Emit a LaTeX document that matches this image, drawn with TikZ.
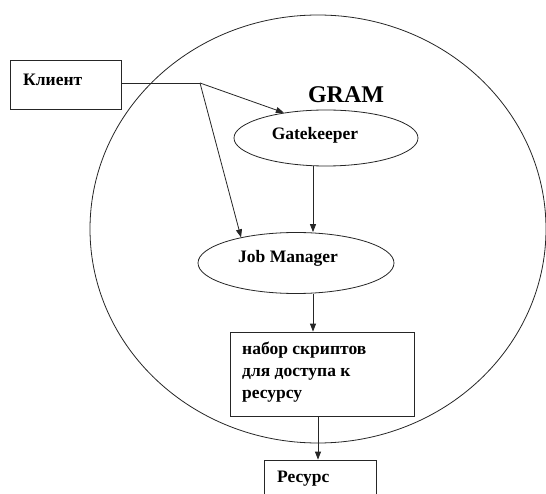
\documentclass[tikz,border=0pt]{standalone}
\usepackage{fontspec}
\setmainfont{Liberation Serif}
\usetikzlibrary{shapes.geometric,arrows.meta}
\begin{document}
\begin{tikzpicture}[x=1pt,y=-1pt,
  line/.style={draw=black!85,line width=0.8pt},
  arr/.style={line,-{Triangle[length=8pt,width=6pt]}},
  lbl/.style={inner sep=0pt,font=\bfseries\fontsize{17.5}{22}\selectfont},
  oval/.style={ellipse,line,inner sep=0pt},
  boxed/.style={rectangle,line,inner sep=0pt}]
\useasboundingbox (0,0) rectangle (546,494);
\fill[white] (0,0) rectangle (546,494);
% big ellipse
\node[oval,minimum width=456pt,minimum height=428pt] (gram) at (318,229) {};
\node[inner sep=0pt,font=\bfseries\fontsize{24}{28}\selectfont] (gramt) at (346,95) {GRAM};
% client
\node[boxed,minimum width=111pt,minimum height=49pt] (cl) at (65.5,84.5) {};
\node[lbl,anchor=base west] (clt) at (23,86) {Клиент};
% gatekeeper
\node[oval,minimum width=184pt,minimum height=56pt] (gk) at (326,138) {};
\node[lbl] (gkt) at (315,135) {Gatekeeper};
% job manager
\node[oval,minimum width=196pt,minimum height=61pt] (jm) at (296,263) {};
\node[lbl] (jmt) at (288,258) {Job Manager};
% scripts
\node[boxed,minimum width=184pt,minimum height=84pt] (sc) at (322,374) {};
\node[lbl,anchor=north west,align=left] (sct) at (242,342) {набор скриптов\\для доступа к\\ресурсу};
% resource
\node[boxed,minimum width=112pt,minimum height=40pt] (res) at (320,480) {};
\node[lbl,anchor=base west] (rest) at (277,482) {Ресурс};
% connectors
\coordinate (j) at (200,83);
\coordinate (v1) at (313,0);
\coordinate (v2) at (318,0);
\draw[line] (cl.east |- j) -- (j);
\draw[arr] (j) -- (gk.149);
\draw[arr] (j) -- (jm.155);
\draw[arr] (gk.south -| v1) -- (jm.north -| v1);
\draw[arr] (jm.south -| v1) -- (sc.north -| v1);
\draw[arr] (sc.south -| v2) -- (res.north -| v2);
\end{tikzpicture}
\end{document}
